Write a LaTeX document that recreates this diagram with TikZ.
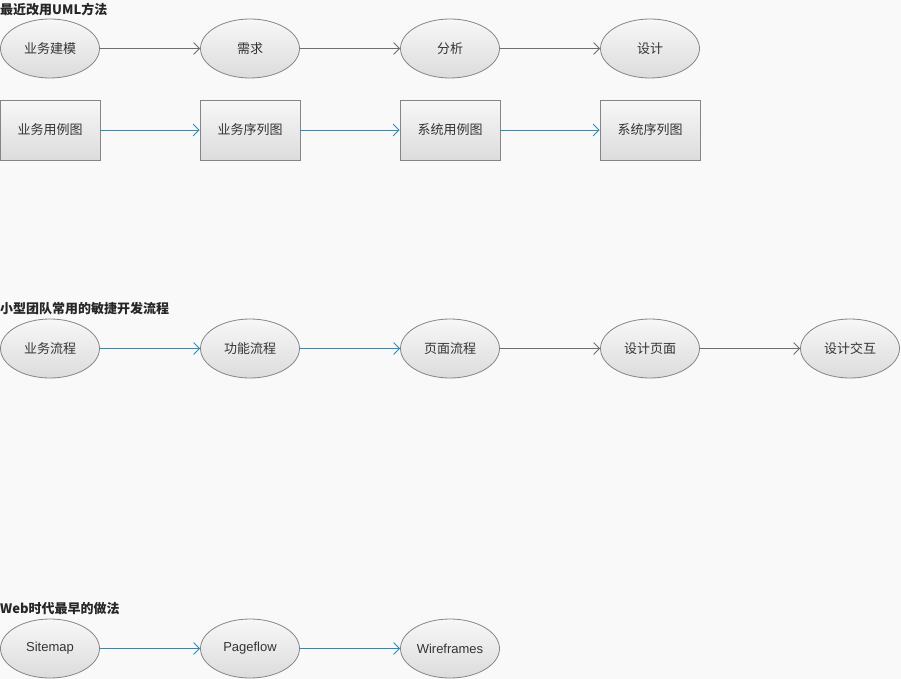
\documentclass[tikz,border=0pt]{standalone}
\usepackage{fontspec}
\setmainfont{Liberation Sans}
\newfontfamily\cjk{Noto Sans CJK SC}
\usetikzlibrary{shapes.geometric,arrows.meta}
\definecolor{bg}{HTML}{F9F9F9}
\definecolor{bordergray}{HTML}{858585}
\definecolor{linegray}{HTML}{6E6E6E}
\definecolor{lineblue}{HTML}{2B8CBA}
\definecolor{topfill}{HTML}{F7F7F7}
\definecolor{botfill}{HTML}{DCDCDC}
\tikzset{
  x=1pt,y=-1pt,
  ell/.style={ellipse,draw=bordergray,line width=0.8pt,top color=topfill,bottom color=botfill,
    minimum width=99pt,minimum height=59pt,inner sep=0pt,text=black!80,
    font=\cjk\fontsize{13}{15}\selectfont},
  ellw/.style={ell,font=\fontsize{13}{15}\selectfont},
  box/.style={rectangle,draw=bordergray,line width=0.8pt,top color=topfill,bottom color=botfill,
    minimum width=100pt,minimum height=60pt,inner sep=0pt,text=black!80,
    font=\cjk\fontsize{13}{15}\selectfont},
  title/.style={anchor=west,inner sep=0pt,text=black!85,font=\cjk\bfseries\fontsize{13}{15}\selectfont},
  ga/.style={draw=linegray,line width=0.8pt,-{Straight Barb[length=6pt,width=12pt,line width=0.8pt]}},
  ba/.style={draw=lineblue,line width=0.8pt,-{Straight Barb[length=6pt,width=12pt,line width=0.8pt]}},
}
\begin{document}
\begin{tikzpicture}
\fill[bg] (0,0) rectangle (901,679);
\useasboundingbox (0,0) rectangle (901,679);
% section 1
\node[title] (t1) at (0,9) {最近改用UML方法};
\node[ell] (a1) at (50,48.5) {业务建模};
\node[ell] (a2) at (250,48.5) {需求};
\node[ell] (a3) at (450,48.5) {分析};
\node[ell] (a4) at (650,48.5) {设计};
\draw[ga] (a1) -- (a2);
\draw[ga] (a2) -- (a3);
\draw[ga] (a3) -- (a4);
\node[box] (b1) at (50,130) {业务用例图};
\node[box] (b2) at (250,130) {业务序列图};
\node[box] (b3) at (450,130) {系统用例图};
\node[box] (b4) at (650,130) {系统序列图};
\draw[ba] (b1) -- (b2);
\draw[ba] (b2) -- (b3);
\draw[ba] (b3) -- (b4);
% section 2
\node[title] (t2) at (0,309) {小型团队常用的敏捷开发流程};
\node[ell] (c1) at (50,348.5) {业务流程};
\node[ell] (c2) at (250,348.5) {功能流程};
\node[ell] (c3) at (450,348.5) {页面流程};
\node[ell] (c4) at (650,348.5) {设计页面};
\node[ell] (c5) at (850,348.5) {设计交互};
\draw[ba] (c1) -- (c2);
\draw[ba] (c2) -- (c3);
\draw[ga] (c3) -- (c4);
\draw[ga] (c4) -- (c5);
% section 3
\node[title] (t3) at (0,609) {Web时代最早的做法};
\node[ellw] (d1) at (50,648.5) {Sitemap};
\node[ellw] (d2) at (250,648.5) {Pageflow};
\node[ellw] (d3) at (450,648.5) {Wireframes};
\draw[ba] (d1) -- (d2);
\draw[ba] (d2) -- (d3);
\end{tikzpicture}
\end{document}
